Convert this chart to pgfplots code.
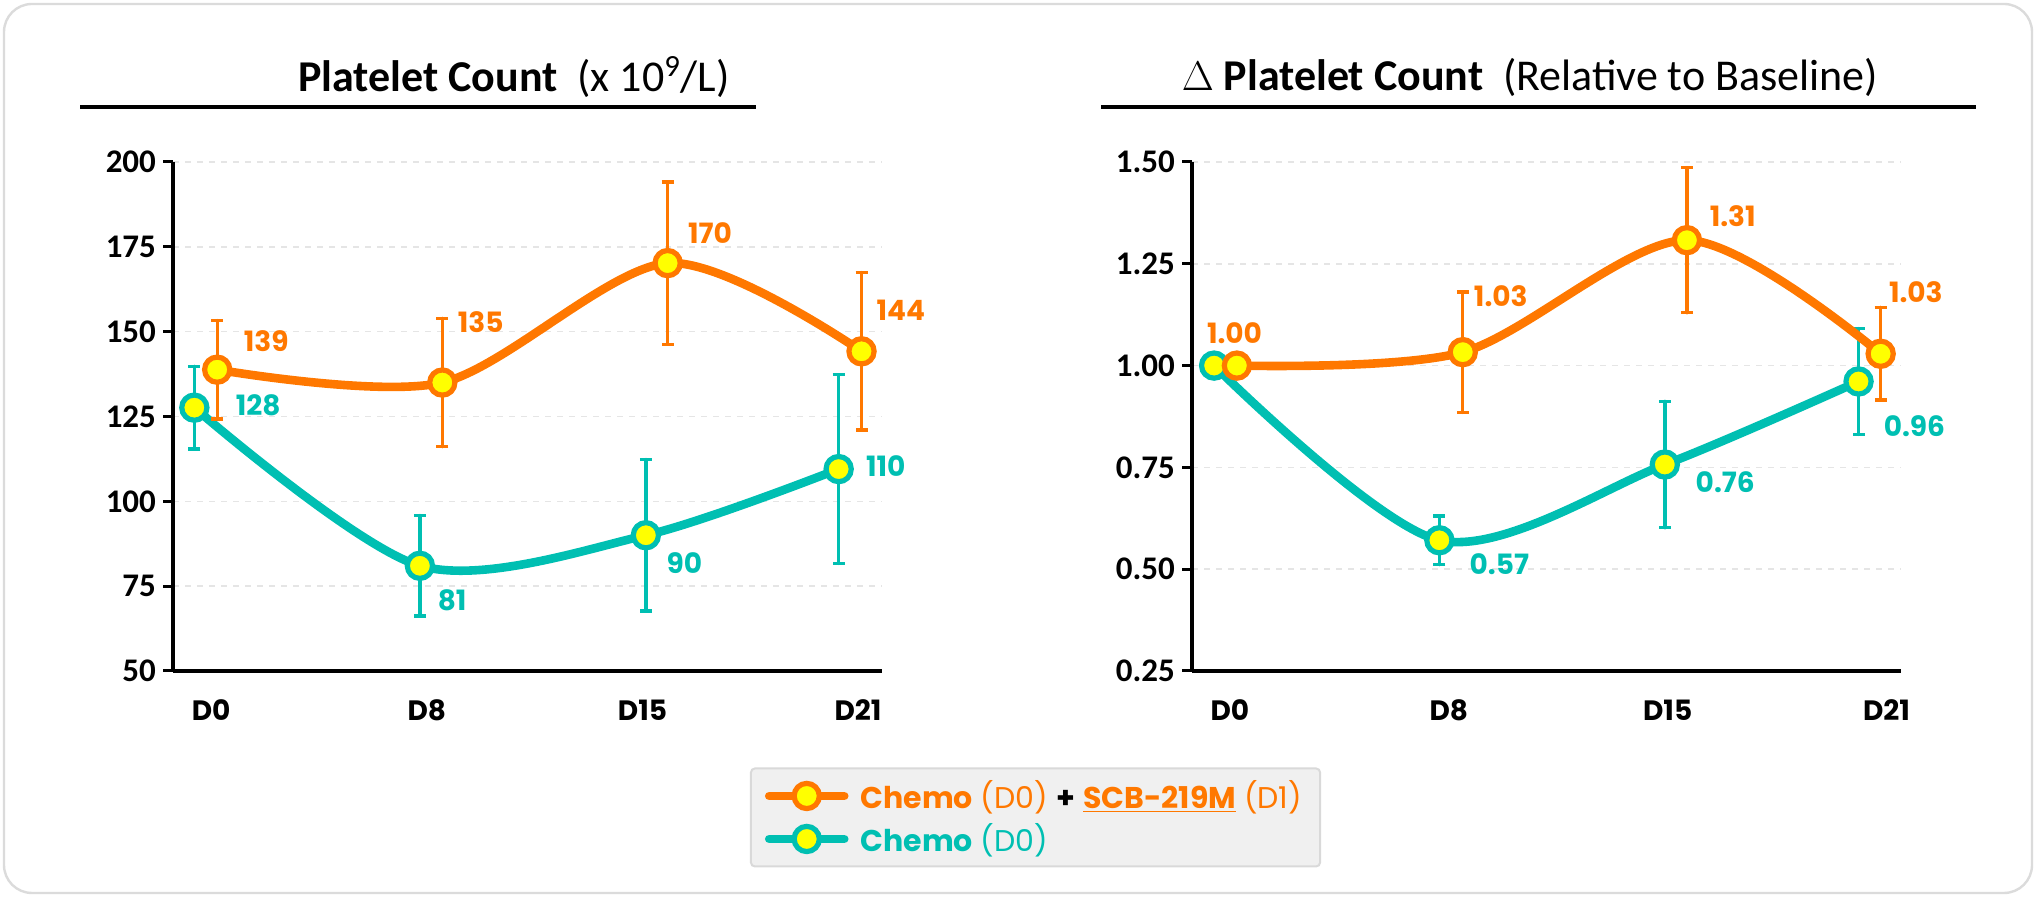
\documentclass[border=0pt]{standalone}
\usepackage{fontspec}
\setmainfont{Carlito}
\newfontfamily\pop{Poppins}
\usepackage{pgfplots}
\pgfplotsset{compat=1.18}
\definecolor{corange}{HTML}{FF7800}
\definecolor{cteal}{HTML}{00BFB2}
\definecolor{cyel}{HTML}{FFFF00}
\pgfplotsset{
 mystyle/.style={
  scale only axis, width=354.5pt, height=254.5pt,
  axis x line*=bottom, axis y line*=left,
  axis line style={line width=2.2pt,-},
  xtick={0,1,2,3}, xticklabels={D0,D8,D15,D21},
  x tick style={draw=none},
  y tick style={line width=1.5pt,black},
  tick align=outside, major tick length=5pt,
  ymajorgrids, grid style={dashed, color=black!10, line width=0.8pt},
  xticklabel style={font=\pop\bfseries\fontsize{14}{15}\selectfont, yshift=-6pt},
  yticklabel style={font=\bfseries\fontsize{16.5}{17}\selectfont},
  /pgf/number format/assume math mode=true,
  clip=false,
  legend image code/.code={\draw[mark repeat=2,mark phase=2,#1] plot coordinates {(0pt,0pt) (18.75pt,0pt) (37.5pt,0pt)};},
 },
 orangeplot/.style={corange, line width=4.3pt, smooth, line cap=round, mark=*, mark size=6.3pt,
   mark options={fill=cyel, draw=corange, line width=2.6pt},
   error bars/.cd, y dir=both, y explicit,
   error bar style={line width=1.7pt, corange},
   error mark options={line width=1.7pt, corange, mark size=3pt, rotate=90}},
 tealplot/.style={cteal, line width=4.3pt, smooth, line cap=round, mark=*, mark size=6.3pt,
   mark options={fill=cyel, draw=cteal, line width=2.6pt},
   error bars/.cd, y dir=both, y explicit,
   error bar style={line width=1.7pt, cteal},
   error mark options={line width=1.7pt, cteal, mark size=3pt, rotate=90}},
}
\newcommand{\lab}{\pop\bfseries\fontsize{14}{15}\selectfont}
\begin{document}
\begin{tikzpicture}
\path[use as bounding box] (0,0) rectangle (1018pt,448.5pt);
\draw[black!14, line width=1.2pt, rounded corners=14pt] (2pt,2pt) rectangle (1016pt,446.5pt);
% titles
\node at (257pt,410pt) {\fontsize{22}{24}\selectfont\textbf{Platelet Count}\ \ (x 10\textsuperscript{9}/L)};
\draw[line width=2.2pt] (40pt,395pt) -- (378pt,395pt);
\node at (765pt,410pt) {\fontsize{22}{24}\selectfont$\Delta$\ \textbf{Platelet Count}\ \ (Relative to Baseline)};
\draw[line width=2.2pt] (550.5pt,395pt) -- (988pt,395pt);

\begin{axis}[mystyle, at={(86.5pt,113pt)}, anchor=south west,
  xmin=-0.177, xmax=3.111, ymin=50, ymax=200, ytick={50,75,...,200},
  reverse legend,
  legend style={at={(axis description cs:1.2165,-0.2878)}, anchor=center,
    fill=black!6, draw=black!15, line width=1pt, rounded corners=2pt,
    font=\pop\fontsize{15}{17}\selectfont, inner xsep=7pt, inner ysep=4pt,
    row sep=2pt, column sep=4pt},
  legend cell align=left]
\addplot[tealplot] coordinates {
 (-0.078,127.6) +- (0,12.2)
 (0.968,81) +- (0,14.8)
 (2.016,90) +- (0,22.3)
 (2.910,109.5) +- (0,27.8)
};
\addlegendentry{\textcolor{cteal}{\textbf{Chemo} (D0)}}
\addplot[orangeplot] coordinates {
 (0.028,138.8) +- (0,14.5)
 (1.072,135) +- (0,18.9)
 (2.117,170.2) +- (0,23.9)
 (3.016,144.2) +- (0,23.2)
};
\addlegendentry{\textcolor{corange}{\textbf{Chemo} (D0)} \textbf{+} \textcolor{corange}{\textbf{\underline{SCB-219M}} (D1)}}
\node[font=\lab, text=corange, xshift=24.5pt, yshift=14.4pt] at (axis cs:0.028,138.8) {139};
\node[font=\lab, text=corange, xshift=19.2pt, yshift=30.2pt] at (axis cs:1.072,135) {135};
\node[font=\lab, text=corange, xshift=21.2pt, yshift=15pt] at (axis cs:2.117,170.2) {170};
\node[font=\lab, text=corange, xshift=19.7pt, yshift=20.5pt] at (axis cs:3.016,144.2) {144};
\node[font=\lab, text=cteal, xshift=31.9pt, yshift=1.3pt] at (axis cs:-0.078,127.6) {128};
\node[font=\lab, text=cteal, xshift=16.1pt, yshift=-17.1pt] at (axis cs:0.968,81) {81};
\node[font=\lab, text=cteal, xshift=19.2pt, yshift=-13.9pt] at (axis cs:2.016,90) {90};
\node[font=\lab, text=cteal, xshift=23.5pt, yshift=1.3pt] at (axis cs:2.910,109.5) {110};
\end{axis}

\begin{axis}[mystyle, at={(596pt,113pt)}, anchor=south west,
  xmin=-0.173, xmax=3.066, ymin=0.25, ymax=1.5, ytick={0.25,0.5,...,1.5},
  yticklabel={\pgfmathprintnumber[fixed,fixed zerofill,precision=2]{\tick}}]
\addplot[tealplot] coordinates {
 (-0.072,1.00) +- (0,0)
 (0.957,0.571) +- (0,0.06)
 (1.987,0.757) +- (0,0.155)
 (2.872,0.961) +- (0,0.13)
};
\addplot[orangeplot] coordinates {
 (0.032,1.00) +- (0,0)
 (1.064,1.033) +- (0,0.148)
 (2.088,1.308) +- (0,0.178)
 (2.973,1.029) +- (0,0.114)
};
\node[font=\lab, text=corange, xshift=-1.2pt, yshift=16pt] at (axis cs:0.032,1.00) {1.00};
\node[font=\lab, text=corange, xshift=19pt, yshift=28pt] at (axis cs:1.064,1.033) {1.03};
\node[font=\lab, text=corange, xshift=22.9pt, yshift=12pt] at (axis cs:2.088,1.308) {1.31};
\node[font=\lab, text=corange, xshift=17.6pt, yshift=30.8pt] at (axis cs:2.973,1.029) {1.03};
\node[font=\lab, text=cteal, xshift=30pt, yshift=-11.8pt] at (axis cs:0.957,0.571) {0.57};
\node[font=\lab, text=cteal, xshift=30.2pt, yshift=-8.9pt] at (axis cs:1.987,0.757) {0.76};
\node[font=\lab, text=cteal, xshift=27.9pt, yshift=-22.4pt] at (axis cs:2.872,0.961) {0.96};
\end{axis}
\end{tikzpicture}
\end{document}
